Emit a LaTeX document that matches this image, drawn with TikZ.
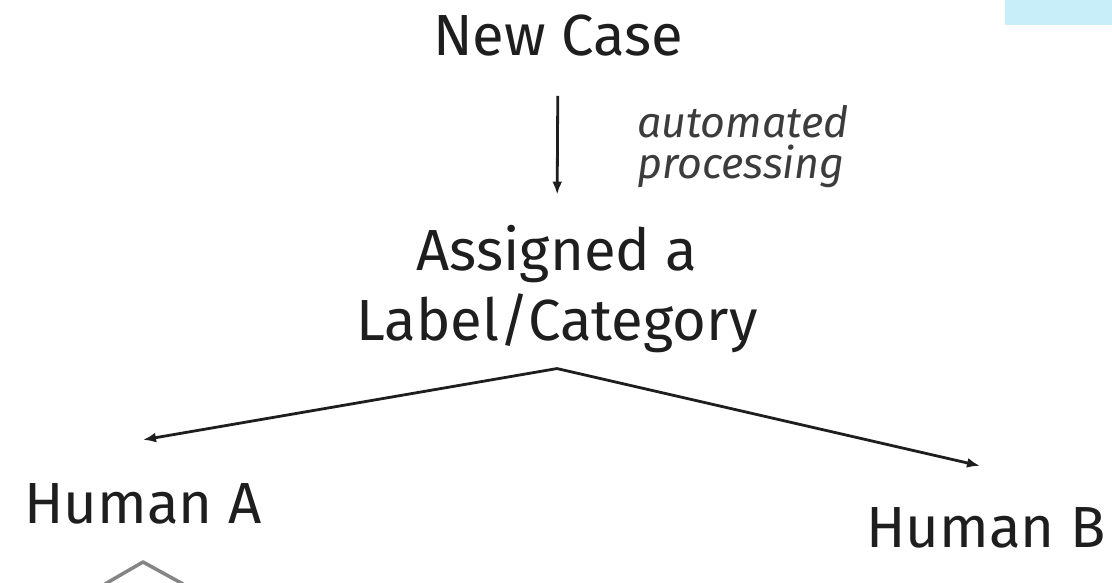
\documentclass[tikz,border=0pt]{standalone}
\usepackage{fontspec}
\setmainfont{Fira Sans}
\usetikzlibrary{arrows.meta}
\definecolor{inkdark}{HTML}{1E1E1E}
\definecolor{notegray}{HTML}{3C3C3C}
\definecolor{tabblue}{HTML}{C8EEFA}
\definecolor{chevgray}{HTML}{858585}
\tikzset{
  label text/.style={inner sep=0pt, text=inkdark, font=\fontsize{58}{70}\selectfont},
  note text/.style={inner sep=0pt, text=notegray, align=left,
    font=\fontsize{43}{41}\selectfont\itshape},
  flow/.style={draw=inkdark, line width=2.8pt,
    -{Latex[length=13pt,width=10pt]}}
}
\begin{document}
\begin{tikzpicture}[x=1pt, y=-1pt]
  \useasboundingbox (0,0) rectangle (1112,582);
  % tab in the upper right corner
  \fill[tabblue] (1005,0) rectangle (1112,25);

  % labels (multi-line nodes sit on the baseline of their last line)
  \node[label text, anchor=base] (newcase) at (558,55) {New Case};
  \node[label text, anchor=base, align=center] (assigned) at (557,340)
    {Assigned a\\Label/Category};
  \node[note text, anchor=base west] (auto) at (637,178)
    {automated\\processing};
  \node[label text, anchor=base] (humanA) at (143,523) {Human A};
  \node[label text, anchor=base] (humanB) at (986,547) {Human B};

  % connectors
  \draw[flow, shorten <=40pt, shorten >=30pt] (newcase.south) -- (assigned.north);
  \coordinate (split) at ([yshift=-16pt]assigned.south);
  \draw[flow] (split) -- ([yshift=43pt]humanA.north);
  \draw[flow] (split) -- ([xshift=-6pt,yshift=41pt]humanB.north);

  % partial outline at the bottom edge
  \draw[chevgray, line width=3.5pt, line join=round] (105,584) -- (143,562) -- (183,584);
\end{tikzpicture}
\end{document}
